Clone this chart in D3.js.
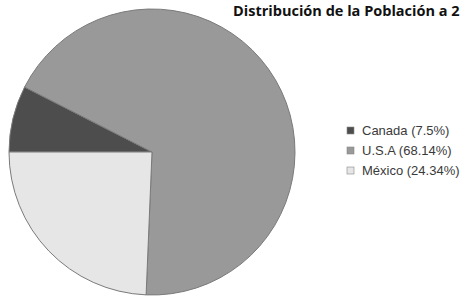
<!DOCTYPE html>
<html><head><meta charset="utf-8">
<script src="https://cdn.jsdelivr.net/npm/d3@7"></script>
<style>body{margin:0;background:#fff;overflow:hidden}</style>
</head><body>
<svg id="c" width="462" height="297"></svg>
<script>
const categories = ["Canada", "U.S.A", "México"];
const values = [7.5, 68.14, 24.34];
const labels = ["Canada (7.5%)", "U.S.A (68.14%)", "México (24.34%)"];
const colors = ["#4d4d4d", "#999999", "#e6e6e6"];
const title = "Distribución de la Población a 2";

const svg = d3.select("#c");
const cx = 152, cy = 152, r = 143;
const pie = d3.pie().sort(null).startAngle(1.5 * Math.PI).endAngle(3.5 * Math.PI);
const arc = d3.arc().innerRadius(0).outerRadius(r);
const color = d3.scaleOrdinal().domain(categories).range(colors);

const g = svg.append("g").attr("transform", `translate(${cx},${cy})`);
g.selectAll("path").data(pie(values)).enter().append("path")
  .attr("d", arc)
  .attr("fill", (d, i) => color(categories[i]))
  .attr("stroke", "#7a7a7a")
  .attr("stroke-width", 1);

const t = svg.append("text").attr("x", 233).attr("y", 15.5)
  .attr("font-family", "Open Sans, Arial, sans-serif")
  .attr("font-weight", "bold").attr("font-size", 16).attr("fill", "#111")
  .text(title);
const w = t.node().getComputedTextLength();
t.attr("font-size", 16 * 227 / w);

const lg = svg.append("g");
const row = lg.selectAll("g").data(categories).enter().append("g")
  .attr("transform", (d, i) => `translate(347,${127 + i * 20})`);
row.append("rect").attr("width", 7).attr("height", 7)
  .attr("fill", d => color(d)).attr("stroke", "#888").attr("stroke-width", 0.6);
row.append("text").attr("x", 15).attr("y", 8)
  .attr("font-family", "Liberation Sans, Arial, sans-serif").attr("font-size", 13).attr("fill", "#3a3a3a")
  .text((d, i) => labels[i]);
</script>
</body></html>
